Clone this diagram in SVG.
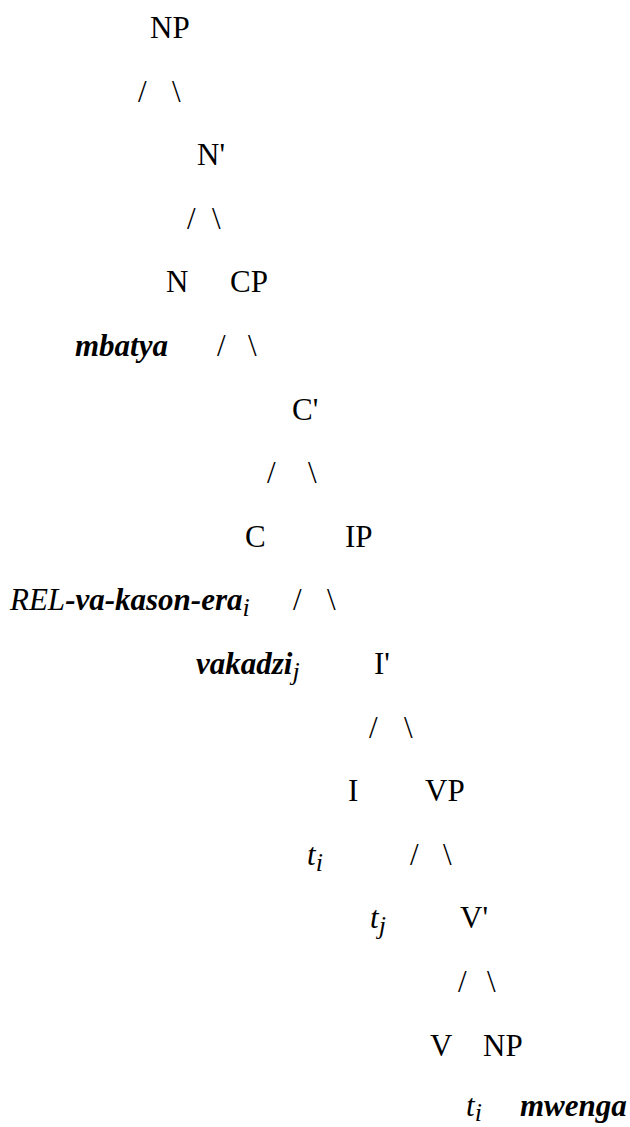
<svg xmlns="http://www.w3.org/2000/svg" width="630" height="1127" viewBox="0 0 630 1127">
<style>
text{font-family:"Liberation Serif","Times New Roman",serif;font-size:31px;fill:#000}
.bi{font-style:italic;font-weight:bold}
.it{font-style:italic}
.sub{font-style:italic;font-weight:normal;font-size:26px}
</style>
<rect width="630" height="1127" fill="#fff"/>
<g id="connectors">
<text x="138" y="101.6">/</text><text x="172" y="101.6">\</text>
<text x="187" y="228.8">/</text><text x="212" y="228.8">\</text>
<text x="217" y="356">/</text><text x="248" y="356">\</text>
<text x="267" y="483.2">/</text><text x="308" y="483.2">\</text>
<text x="293" y="610.4">/</text><text x="327" y="610.4">\</text>
<text x="369" y="737.6">/</text><text x="404" y="737.6">\</text>
<text x="410" y="864.8">/</text><text x="443" y="864.8">\</text>
<text x="458" y="992">/</text><text x="487" y="992">\</text>
</g>
<g id="np-top"><text x="150" y="38">NP</text></g>
<g id="nbar"><text x="197" y="165.2">N'</text></g>
<g id="n"><text x="166" y="292.4">N</text></g>
<g id="cp"><text x="230" y="292.4">CP</text></g>
<g id="mbatya"><text x="75" y="356" class="bi">mbatya</text></g>
<g id="cbar"><text x="292" y="419.6">C'</text></g>
<g id="c"><text x="245" y="546.8">C</text></g>
<g id="ip"><text x="345" y="546.8">IP</text></g>
<g id="rel"><text x="10" y="610.4"><tspan class="it">REL</tspan><tspan class="bi">-va-kason-era</tspan><tspan class="sub" dy="6">i</tspan></text></g>
<g id="vakadzi"><text x="196" y="674" class="bi">vakadzi<tspan class="sub" dy="6">j</tspan></text></g>
<g id="ibar"><text x="374" y="674">I'</text></g>
<g id="i"><text x="348" y="801.2">I</text></g>
<g id="vp"><text x="425" y="801.2">VP</text></g>
<g id="ti1"><text x="307" y="864.8" class="it">t<tspan class="sub" dy="6">i</tspan></text></g>
<g id="tj"><text x="370" y="928.4" class="it">t<tspan class="sub" dy="6">j</tspan></text></g>
<g id="vbar"><text x="460" y="928.4">V'</text></g>
<g id="v"><text x="430" y="1055.6">V</text></g>
<g id="np-obj"><text x="483" y="1055.6">NP</text></g>
<g id="ti2"><text x="466" y="1116" class="it">t<tspan class="sub" dy="5">i</tspan></text></g>
<g id="mwenga"><text x="520" y="1116" class="bi">mwenga</text></g>
</svg>
